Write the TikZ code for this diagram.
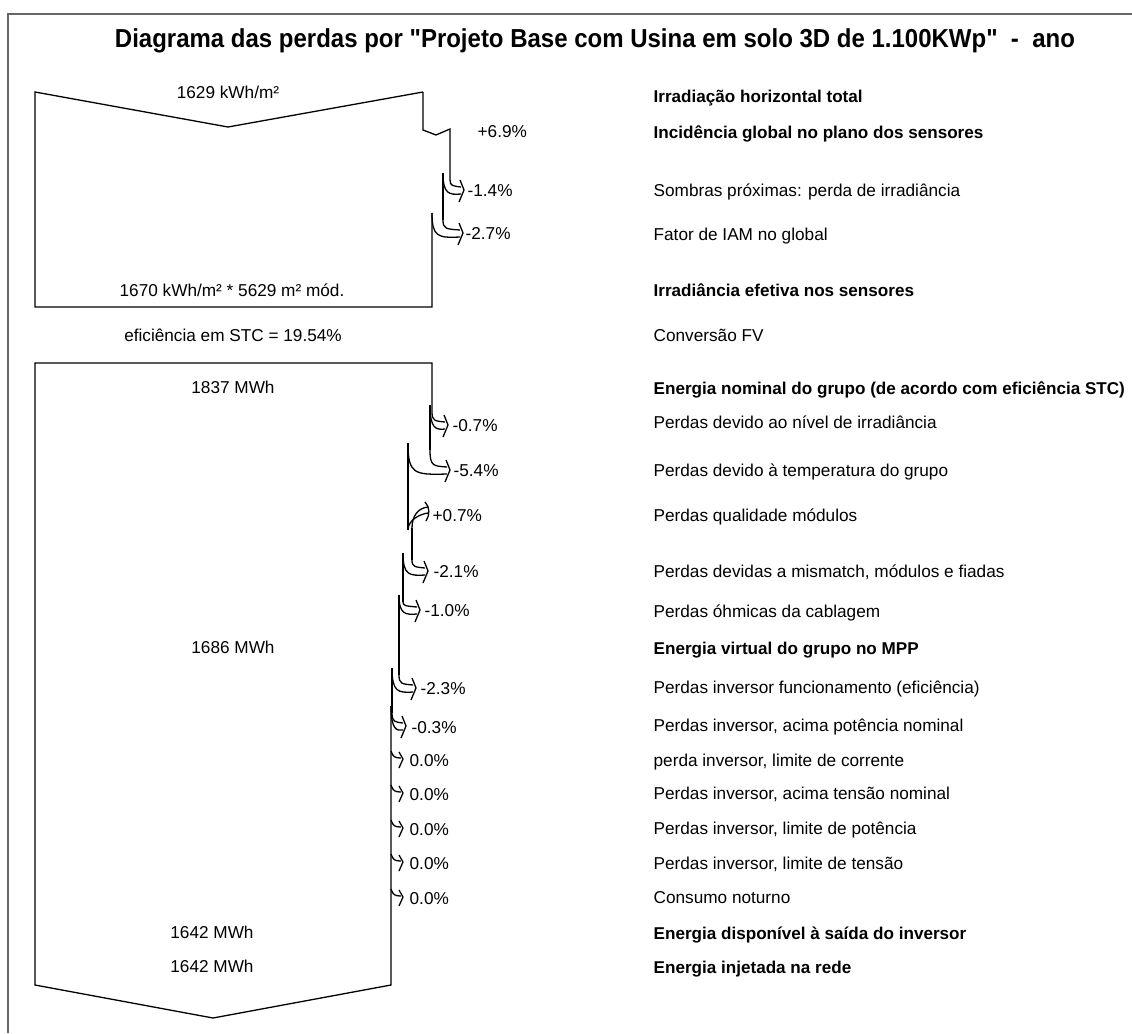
\documentclass[tikz,border=0pt]{standalone}
\usepackage{fontspec}
\usepackage{graphicx}
\setmainfont{Liberation Sans}
\newfontfamily\titlefont{Liberation Sans}[Ligatures=TeXOff]
\usetikzlibrary{positioning}

% loss arrow: old edge x, new edge x, start y, label y, tip x
\newcommand{\lossarrow}[5]{%
    \draw (#1,#3+7) .. controls (#1,#4-4) and (#1+3,#4-4) .. (#5,#4-3);
    \draw (#2,#3) .. controls (#2,#4+4) and (#2+6,#4+5) .. (#5,#4+4);
    \draw (#5-1,#4-10) -- (#5+3,#4) -- (#5-2,#4+12);
}
% zero loss: edge x, label y, tip x
\newcommand{\nullarrow}[3]{%
    \draw (#1,#2-9) .. controls (#1+2,#2-3) and (#1+4,#2-2) .. (#3,#2-2);
    \draw (#3-2,#2-8) -- (#3+2,#2-1) -- (#3-2,#2+8);
}

\begin{document}
\begin{tikzpicture}[x=1pt, y=-1pt, line width=1.3pt,
    every node/.style={inner sep=0pt, font=\fontsize{17.2}{19}\selectfont},
    val/.style={anchor=base},
    lbl/.style={anchor=base west},
    lblb/.style={anchor=base west, font=\fontsize{17.1}{19}\selectfont\bfseries},
    pct/.style={anchor=base west},
    frame/.style={line width=1.8pt, draw=black!60}]
    \useasboundingbox (0,0) rectangle (1132,1033);

    % outer frame (only top and left visible)
    \draw[frame] (8,1033) -- (8,14) -- (1132,14);
    \node[anchor=base, font=\titlefont\fontsize{26}{30}\selectfont\bfseries] (title) at (595,48)
        {\resizebox{960pt}{\height}{Diagrama das perdas por "Projeto Base com Usina em solo 3D de 1.100KWp"\ \ -\ \ ano}};

    % irradiation flow
    \draw (423,92) -- (423,130) -- (436,135) -- (450,129) -- (450,180);
    \draw (443,173) -- (443,220);
    \draw (432,213) -- (432,307) -- (35,307) -- (35,92) -- (228,127) -- (423,92);
    \lossarrow{450}{443}{173}{190}{461}
    \lossarrow{443}{432}{213}{233}{460}

    % energy flow
    \draw (432,412) -- (432,363) -- (35,363) -- (35,985) -- (213,1018) -- (391,985) -- (391,706);
    \draw (430,405) -- (430,450);
    \draw (408,443) -- (408,530);
    \draw (412,528) -- (412,560);
    \draw (403,553) -- (403,602);
    \draw (399,595) -- (399,675);
    \draw (392,668) -- (392,713);
    \lossarrow{432}{430}{405}{425}{445}
    \lossarrow{430}{408}{443}{470}{447}
    \lossarrow{412}{403}{553}{571}{425}
    \lossarrow{403}{399}{595}{610}{417}
    \lossarrow{399}{392}{668}{688}{413}
    \lossarrow{392}{391}{706}{726}{403}
    % module quality gain
    \draw (428,507) .. controls (418,508) and (412,516) .. (412,528);
    \draw (428,513) .. controls (420,514) and (408,520) .. (408,530);
    \draw (425,502) .. controls (430,507) and (430,515) .. (426,521);
    \foreach \y in {760,794,829,863,898} {
        \nullarrow{391}{\y}{401}
    }

    % values inside the flow
    \node[val] (v1) at (228,98)  {1629 kWh/m²};
    \node[val] (v2) at (232,296) {1670 kWh/m² * 5629 m² mód.};
    \node[val] (v3) at (233,341) {eficiência em STC = 19.54\%};
    \node[val] (v4) at (233,393) {1837 MWh};
    \node[val] (v5) at (233,653) {1686 MWh};
    \node[val] (v6) at (212,938) {1642 MWh};
    \node[val] (v7) at (212,972) {1642 MWh};

    % percentages
    \foreach \x/\y/\p [count=\i] in {
        477/137/+6.9, 467/196/-1.4, 465/239/-2.7,
        452/431/-0.7, 453/476/-5.4, 432/521/+0.7, 433/577/-2.1,
        424/616/-1.0, 420/694/-2.3, 411/733/-0.3,
        409/766/0.0, 409/800/0.0, 409/835/0.0, 409/869/0.0, 409/904/0.0%
    }{%
        \node[pct] (p\i) at (\x,\y) {\p\%};
    }

    % descriptions
    \foreach \y/\s/\t [count=\i] in {
        102/lblb/{Irradiação horizontal total},
        138/lblb/{Incidência global no plano dos sensores},
        196/lbl/{Sombras próximas: perda de irradiância},
        240/lbl/{Fator de IAM no global},
        296/lblb/{Irradiância efetiva nos sensores},
        341/lbl/{Conversão FV},
        394/lblb/{Energia nominal do grupo (de acordo com eficiência STC)},
        428/lbl/{Perdas devido ao nível de irradiância},
        476/lbl/{Perdas devido à temperatura do grupo},
        521/lbl/{Perdas qualidade módulos},
        577/lbl/{Perdas devidas a mismatch, módulos e fiadas},
        617/lbl/{Perdas óhmicas da cablagem},
        654/lblb/{Energia virtual do grupo no MPP},
        693/lbl/{Perdas inversor funcionamento (eficiência)},
        731/lbl/{Perdas inversor, acima potência nominal},
        766/lbl/{perda inversor, limite de corrente},
        799/lbl/{Perdas inversor, acima tensão nominal},
        834/lbl/{Perdas inversor, limite de potência},
        869/lbl/{Perdas inversor, limite de tensão},
        903/lbl/{Consumo noturno},
        939/lblb/{Energia disponível à saída do inversor},
        973/lblb/{Energia injetada na rede}%
    }{%
        \node[\s] (d\i) at (653,\y) {\t};
    }
\end{tikzpicture}
\end{document}
